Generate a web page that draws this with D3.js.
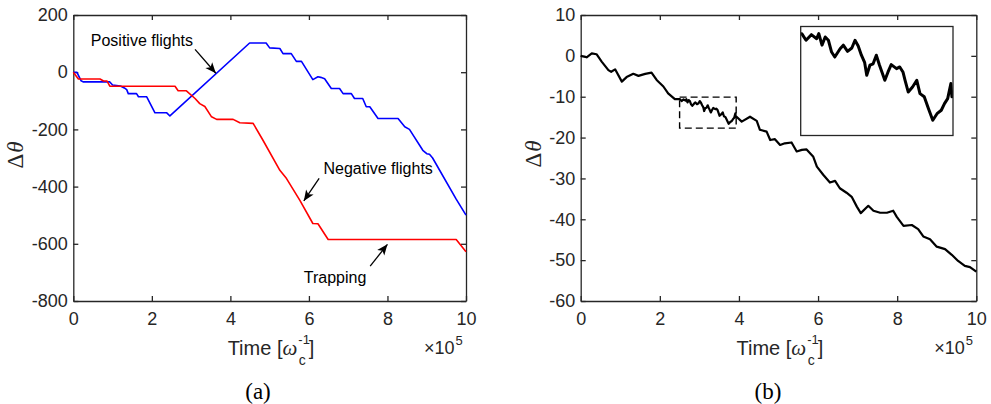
<!DOCTYPE html>
<html><head><meta charset="utf-8">
<script src="https://cdn.jsdelivr.net/npm/d3@7"></script>
<style>body{margin:0;background:#fff}</style>
</head><body><svg id="c" width="991" height="404"></svg>
<script>
// ---------- data ----------
const xTicks = [0, 2, 4, 6, 8, 10];
const yTicksA = [-800, -600, -400, -200, 0, 200];
const yTicksB = [-60, -50, -40, -30, -20, -10, 0, 10];
const xTickLabels = ["0", "2", "4", "6", "8", "10"];

// panel (a), blue: time (x1e5), delta theta
const positiveFlights = [[0,0],[0.09,0],[0.2,-30],[0.25,-34],[0.93,-34],[1.0,-45],[1.2,-48],[1.3,-55],[1.36,-61],[1.4,-75],[1.61,-75],[1.66,-86],[1.87,-86],[2.08,-142],[2.38,-142],[2.46,-153],[4.49,102],[4.91,102],[5.0,85],[5.26,83],[5.34,65],[5.55,65],[5.68,38],[5.81,38],[6.10,-26],[6.23,-16],[6.30,-18],[6.40,-23],[6.57,-57],[6.78,-57],[6.87,-75],[7.08,-75],[7.16,-92],[7.37,-92],[7.46,-121],[7.55,-121],[7.76,-162],[8.27,-162],[8.44,-191],[8.56,-200],[8.90,-273],[9.0,-285],[9.07,-287],[9.15,-300],[9.75,-444],[10,-500]];
// panel (a), red
const negativeFlights = [[0,0],[0.13,-24],[0.68,-24],[0.77,-31],[0.86,-31],[0.93,-49],[2.59,-49],[2.67,-65],[2.88,-65],[3.10,-92],[3.22,-110],[3.35,-120],[3.52,-156],[3.65,-165],[4.07,-165],[4.24,-177],[4.58,-179],[4.83,-238],[5.26,-343],[5.43,-372],[5.77,-448],[6.10,-529],[6.23,-530],[6.49,-585],[9.75,-585],[10,-628]];
// panel (b), black
const walkB = [[0,0],[0.15,-0.35],[0.28,0.6],[0.40,0.4],[0.53,-1.4],[0.70,-3.5],[0.77,-3.9],[0.87,-3.3],[1.04,-6.3],[1.16,-5.2],[1.33,-4.4],[1.46,-4.9],[1.63,-4.4],[1.79,-4.1],[1.92,-5.9],[2.09,-7.5],[2.21,-9.2],[2.38,-10.6],[2.46,-10.6],
[2.51,-10.6],[2.55,-11.06],[2.60,-10.67],[2.65,-10.95],[2.67,-10.6],[2.70,-11.4],[2.73,-10.83],[2.76,-11.06],[2.79,-11.88],[2.82,-12.23],[2.87,-11.65],[2.90,-11.4],[2.94,-11.83],[2.98,-11.6],[3.01,-11.06],[3.04,-11.46],[3.07,-12.1],[3.10,-12.6],[3.12,-13.5],[3.15,-12.8],[3.18,-12.7],[3.21,-12.1],[3.24,-12.8],[3.29,-13.85],[3.32,-13.27],[3.35,-12.76],[3.40,-13.04],[3.43,-12.92],[3.46,-13.27],[3.48,-13.85],[3.51,-14.67],[3.55,-14.32],[3.59,-13.85],[3.62,-14.78],[3.66,-15.0],[3.70,-15.83],[3.74,-16.64],[3.78,-16.18],[3.82,-15.94],[3.85,-15.48],[3.88,-15.13],[3.91,-14.08],[3.92,-15.0],
[3.94,-14.9],[4.07,-16.1],[4.28,-14.9],[4.45,-15.9],[4.53,-18.1],[4.70,-18.55],[4.79,-20.6],[4.91,-20.4],[5.04,-21.8],[5.16,-21.4],[5.33,-21.2],[5.46,-23.4],[5.59,-23.0],[5.71,-22.9],[5.88,-24.7],[5.97,-27.1],[6.13,-29.1],[6.30,-31.0],[6.43,-30.6],[6.55,-32.4],[6.72,-33.5],[6.85,-34.5],[6.98,-36.9],[7.08,-38.5],[7.27,-36.7],[7.40,-37.9],[7.57,-38.4],[7.74,-38.4],[7.90,-37.9],[7.99,-39.4],[8.16,-41.6],[8.37,-41.4],[8.53,-42.4],[8.66,-44.2],[8.83,-44.9],[9.0,-46.7],[9.21,-47.3],[9.38,-48.7],[9.54,-50.2],[9.71,-51.4],[9.84,-51.7],[10,-52.8]];
// zoom window of panel (b)
const insetT = [2.5, 3.93];
const insetV = [-17.7, -10.1];
// annotations of panel (a)
const annoText = ["Positive flights", "Negative flights", "Trapping"];
const annoHead = [[3.63,-3.8],[5.87,-450],[8.0,-602]];
const annoTail = [[3.10,80],[6.26,-371],[7.56,-678]];
const annoLabel = [[3.05,91],[6.37,-356],[5.87,-738]];
const annoAnchor = ["end","start","start"];

// ---------- drawing ----------
const svg = d3.select("#c");
svg.append("rect").attr("width",991).attr("height",404).attr("fill","#fff");
const sans = "'Liberation Sans', Arial, Helvetica, sans-serif";
const serif = "'Liberation Serif', 'Times New Roman', serif";
const axCol = "#262626";

svg.append("defs").append("marker").attr("id","ah")
  .attr("markerUnits","userSpaceOnUse").attr("markerWidth",14).attr("markerHeight",12)
  .attr("viewBox","-11 -5 13 10").attr("refX",0).attr("refY",0).attr("orient","auto")
  .append("path").attr("d","M0,0 L-10,-4.2 L-7.5,0 L-10,4.2 Z").attr("fill","#000");

function panel(xr, yr, xDom, yDom, yTicks, labelX, labelY, tag, tagX) {
  const x = d3.scaleLinear().domain(xDom).range(xr);
  const y = d3.scaleLinear().domain(yDom).range(yr);
  const g = svg.append("g");
  const styleAxis = sel => {
    sel.selectAll("path.domain").attr("stroke",axCol).attr("stroke-width",1.3);
    sel.selectAll(".tick line").attr("stroke",axCol).attr("stroke-width",1.3);
    sel.selectAll(".tick text").attr("fill",axCol).style("font-family",sans).style("font-size","18px");
  };
  g.append("g").attr("transform",`translate(0,${yr[0]})`)
    .call(d3.axisBottom(x).tickValues(xTicks).tickFormat((d,i)=>xTickLabels[i]).tickSizeInner(-5).tickSizeOuter(0).tickPadding(11)).call(styleAxis);
  g.append("g").attr("transform",`translate(0,${yr[1]})`)
    .call(d3.axisTop(x).tickValues(xTicks).tickFormat(()=>"").tickSizeInner(-5).tickSizeOuter(0)).call(styleAxis);
  g.append("g").attr("transform",`translate(${xr[0]},0)`)
    .call(d3.axisLeft(y).tickValues(yTicks).tickFormat(d3.format("d")).tickSizeInner(-5).tickSizeOuter(0).tickPadding(5.5)).call(styleAxis);
  g.append("g").attr("transform",`translate(${xr[1]},0)`)
    .call(d3.axisRight(y).tickValues(yTicks).tickFormat(()=>"").tickSizeInner(-5).tickSizeOuter(0)).call(styleAxis);
  g.selectAll(".tick text").each(function(){ this.textContent = this.textContent.replace("\u2212","-"); });

  const cx = (xr[0]+xr[1])/2;
  const xl = g.append("text").attr("x",cx-42).attr("y",355).attr("fill",axCol)
    .style("font-family",sans).style("font-size","20px");
  xl.append("tspan").text("Time [");
  xl.append("tspan").style("font-family",serif).style("font-style","italic").style("font-size","21px").text("\u03c9");
  xl.append("tspan").attr("dy",-11).attr("dx",1).style("font-size","13px").text("-1");
  xl.append("tspan").attr("dy",21).attr("dx",-11).style("font-size","14px").text("c");
  xl.append("tspan").attr("dy",-10).attr("dx",3).text("]");
  const xm = g.append("text").attr("x",xr[1]-42).attr("y",354).attr("fill",axCol)
    .style("font-family",sans).style("font-size","18px");
  xm.append("tspan").text("\u00d710");
  xm.append("tspan").attr("dy",-9).attr("dx",1).style("font-size","13px").text("5");
  const yl = g.append("text").attr("transform",`translate(${labelX},${labelY}) rotate(-90)`)
    .attr("text-anchor","middle").attr("fill",axCol).style("font-family",serif).style("font-size","23px");
  yl.append("tspan").text("\u0394");
  yl.append("tspan").attr("dx",1).style("font-style","italic").text("\u03b8");
  svg.append("text").attr("x",tagX).attr("y",399).attr("text-anchor","middle")
    .style("font-family",serif).style("font-size","23px").attr("fill","#000").text(tag);
  return {x, y, g};
}

// panel (a)
const A = panel([73.3,466],[301,15],[0,10],[-800,200],yTicksA,23,155,"(a)",258);
const lineA = d3.line().x(d=>A.x(d[0])).y(d=>A.y(d[1]));
A.g.append("path").datum(positiveFlights).attr("d",lineA).attr("fill","none").attr("stroke","#0000ff").attr("stroke-width",1.6).attr("stroke-linejoin","round");
A.g.append("path").datum(negativeFlights).attr("d",lineA).attr("fill","none").attr("stroke","#ff0000").attr("stroke-width",1.6).attr("stroke-linejoin","round");
annoText.forEach((t,i)=>{
  A.g.append("line").attr("x1",A.x(annoTail[i][0])).attr("y1",A.y(annoTail[i][1]))
    .attr("x2",A.x(annoHead[i][0])).attr("y2",A.y(annoHead[i][1]))
    .attr("stroke","#000").attr("stroke-width",1.3).attr("marker-end","url(#ah)");
  A.g.append("text").attr("x",A.x(annoLabel[i][0])).attr("y",A.y(annoLabel[i][1]))
    .attr("text-anchor",annoAnchor[i]).style("font-family",sans).style("font-size","16px").attr("fill","#000").text(t);
});

// panel (b)
const B = panel([580.7,976.3],[301,15],[0,10],[-60,10],yTicksB,541,154,"(b)",768);
const lineB = d3.line().x(d=>B.x(d[0])).y(d=>B.y(d[1]));
B.g.append("path").datum(walkB).attr("d",lineB).attr("fill","none").attr("stroke","#000").attr("stroke-width",2.2).attr("stroke-linejoin","round");
B.g.append("rect").attr("x",B.x(insetT[0])).attr("y",B.y(insetV[1]))
  .attr("width",B.x(insetT[1])-B.x(insetT[0])).attr("height",B.y(insetV[0])-B.y(insetV[1]))
  .attr("fill","none").attr("stroke","#000").attr("stroke-width",1.4).attr("stroke-dasharray","7,4");
const ix = d3.scaleLinear().domain(insetT).range([800.7,953]);
const iy = d3.scaleLinear().domain(insetV).range([135.5,26.5]);
svg.append("clipPath").attr("id","ic").append("rect").attr("x",800.7).attr("y",26.5).attr("width",152.3).attr("height",109);
svg.append("rect").attr("x",800.7).attr("y",26.5).attr("width",152.3).attr("height",109).attr("fill","#fff");
svg.append("path").datum(walkB.filter(d=>d[0]>=2.4 && d[0]<=4.0))
  .attr("d",d3.line().x(d=>ix(d[0])).y(d=>iy(d[1])))
  .attr("clip-path","url(#ic)").attr("fill","none").attr("stroke","#000").attr("stroke-width",3).attr("stroke-linejoin","round");
svg.append("rect").attr("x",800.7).attr("y",26.5).attr("width",152.3).attr("height",109)
  .attr("fill","none").attr("stroke",axCol).attr("stroke-width",1.3);
</script></body></html>
